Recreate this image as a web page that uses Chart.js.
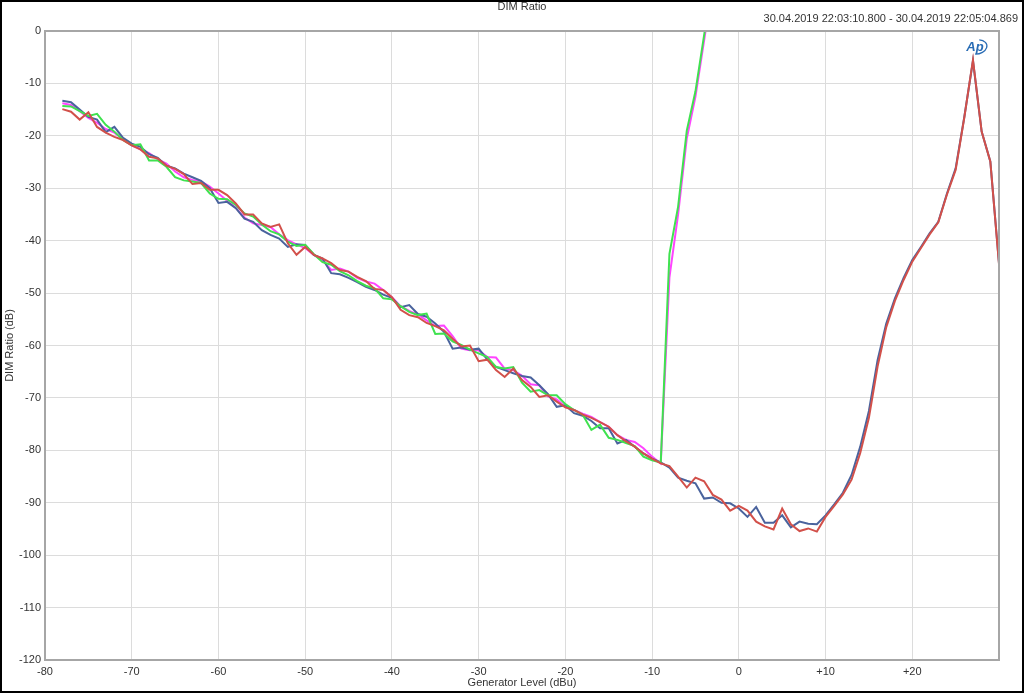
<!DOCTYPE html>
<html>
<head>
<meta charset="utf-8">
<script src="https://cdn.jsdelivr.net/npm/chart.js@4.4.1/dist/chart.umd.min.js"></script>
<style>
  html, body { margin: 0; padding: 0; background: #fff; }
  #wrap { position: relative; width: 1024px; height: 693px; }
  #frame { position: absolute; left: 0; top: 0; width: 1020px; height: 689px; border: 2px solid #000; pointer-events: none; }
  .lbl { position: absolute; font-family: "Liberation Sans", Arial, sans-serif; font-size: 11px; color: #333; white-space: nowrap; }
  #title { left: 0; width: 1044px; top: 0; text-align: center; }
  #stamp { right: 6px; top: 12px; }
</style>
</head>
<body>
<div id="wrap">
  <canvas id="dimChart" width="1024" height="693"></canvas>
  <div id="title" class="lbl">DIM Ratio</div>
  <div id="stamp" class="lbl">30.04.2019 22:03:10.800 - 30.04.2019 22:05:04.869</div>
  <div id="frame"></div>
</div>
<script>
// generator level (dBu), one point per dB
const genLevel = [
  -78, -77, -76, -75, -74, -73, -72, -71, -70, -69, -68, -67, -66, -65, -64, -63, -62, -61, -60, -59,
  -58, -57, -56, -55, -54, -53, -52, -51, -50, -49, -48, -47, -46, -45, -44, -43, -42, -41, -40, -39,
  -38, -37, -36, -35, -34, -33, -32, -31, -30, -29, -28, -27, -26, -25, -24, -23, -22, -21, -20, -19,
  -18, -17, -16, -15, -14, -13, -12, -11, -10, -9, -8, -7, -6, -5, -4, -3, -2, -1, 0, 1,
  2, 3, 4, 5, 6, 7, 8, 9, 10, 11, 12, 13, 14, 15, 16, 17, 18, 19, 20, 21,
  22, 23, 24, 25, 26, 27, 28, 29, 30
];

// DIM ratio (dB) per channel
const blueDim = [
  -13.3, -13.6, -15.0, -16.4, -16.9, -19.3, -18.3, -20.4, -21.5, -22.1, -23.5, -24.2, -25.7, -26.2, -27.2, -27.9, -28.6, -30.0, -32.8, -32.6,
  -33.8, -35.8, -36.4, -38.0, -38.9, -39.6, -41.2, -40.7, -40.8, -42.7, -43.4, -46.2, -46.4, -47.1, -47.9, -48.8, -49.4, -50.3, -50.9, -52.7,
  -52.3, -54.0, -54.5, -55.8, -57.4, -60.6, -60.4, -60.8, -60.6, -62.7, -64.1, -64.7, -65.3, -65.8, -66.1, -67.6, -69.3, -71.7, -71.4, -72.9,
  -73.4, -74.4, -75.8, -75.8, -78.7, -78.0, -79.3, -80.6, -81.6, -82.3, -83.3, -85.2, -85.8, -86.3, -89.2, -89.0, -90.0, -90.1, -91.1, -92.7,
  -90.8, -93.8, -93.8, -92.4, -94.7, -93.6, -94.0, -94.1, -92.4, -90.3, -88.1, -84.7, -79.3, -72.5, -62.8, -55.8, -51.0, -47.1, -43.7, -41.2,
  -38.6, -36.4, -31.0, -26.2, -16.4, -5.7, -19.2, -24.9, -44.3
];
const redDim = [
  -14.9, -15.4, -16.9, -15.5, -18.3, -19.4, -20.2, -20.8, -21.8, -22.6, -24.0, -24.3, -25.7, -26.3, -27.3, -29.2, -29.0, -30.3, -30.3, -31.3,
  -32.9, -35.0, -35.0, -36.7, -37.4, -36.9, -40.5, -42.7, -41.2, -42.7, -43.4, -44.3, -45.6, -45.9, -46.9, -47.7, -49.2, -49.4, -50.8, -53.2,
  -54.2, -54.6, -55.7, -56.3, -57.1, -58.7, -60.2, -60.0, -63.0, -62.7, -64.7, -66.0, -64.4, -66.6, -67.9, -69.8, -69.5, -70.7, -71.8, -72.3,
  -73.2, -73.8, -74.6, -75.5, -77.1, -78.3, -79.3, -80.6, -81.6, -82.5, -83.0, -85.0, -87.1, -85.2, -85.9, -88.5, -89.4, -91.5, -90.6, -91.5,
  -93.6, -94.5, -95.1, -91.1, -94.1, -95.4, -94.9, -95.5, -92.7, -90.6, -88.4, -85.6, -80.5, -73.8, -64.0, -56.5, -51.5, -47.5, -44.0, -41.4,
  -38.8, -36.5, -31.2, -26.5, -16.5, -5.5, -19.2, -24.9, -44.5
];
const greenDim = [
  -14.3, -14.4, -15.3, -16.2, -15.8, -17.9, -19.2, -20.8, -21.8, -21.6, -24.7, -24.7, -25.9, -27.9, -28.5, -28.7, -29.0, -31.0, -32.0, -32.1,
  -33.2, -34.8, -35.4, -36.9, -38.2, -38.8, -40.2, -41.0, -40.8, -42.6, -44.1, -44.6, -45.8, -46.6, -47.7, -48.6, -49.1, -51.0, -51.2, -52.5,
  -53.6, -54.2, -53.9, -57.8, -57.7, -59.2, -59.9, -60.8, -61.5, -62.2, -64.1, -64.4, -64.1, -67.1, -68.8, -68.5, -69.5, -69.5, -71.2, -72.3,
  -73.2, -76.1, -75.1, -77.6, -78.0, -78.6, -79.2, -81.2, -81.9, -82.3, -42.5, -33.5, -19.0, -11.5, -0.8, 10.0
];
const magentaDim = [
  -13.8, -14.1, -15.3, -16.6, -17.5, -18.7, -19.4, -20.7, -21.8, -22.6, -23.3, -24.5, -25.3, -26.8, -27.9, -28.4, -28.7, -29.7, -31.0, -32.4,
  -33.7, -35.6, -36.7, -37.0, -37.4, -38.8, -39.9, -40.7, -41.4, -42.7, -43.7, -45.6, -45.3, -45.9, -47.1, -47.8, -48.2, -49.4, -50.8, -52.5,
  -53.4, -54.1, -55.2, -56.3, -56.2, -58.2, -60.6, -60.9, -60.9, -62.2, -62.3, -64.4, -64.7, -65.8, -67.4, -67.6, -69.7, -70.3, -71.7, -72.3,
  -73.0, -73.6, -74.6, -75.5, -77.1, -78.0, -78.4, -79.6, -81.2, -82.5, -47.0, -35.0, -20.5, -12.5, -1.8, 9.0
];

const xTicksMin = -80;
const xTicksMax = 30;
const yTicksMin = -120;
const yTicksMax = 0;

function toPoints(values) {
  return values.map((v, i) => ({ x: genLevel[i], y: v }));
}

function series(label, values, color, order) {
  return {
    label,
    data: toPoints(values),
    borderColor: color,
    backgroundColor: color,
    borderWidth: 2,
    pointRadius: 0,
    tension: 0,
    order,
  };
}

// plot frame + the small "Ap" badge
const framePlugin = {
  id: 'frame',
  afterDraw(chart) {
    const { ctx, chartArea: a } = chart;
    ctx.save();
    ctx.strokeStyle = '#a6a6a6';
    ctx.lineWidth = 2;
    ctx.strokeRect(a.left, a.top, a.right - a.left, a.bottom - a.top);
    ctx.fillStyle = '#2a6db5';
    ctx.font = 'italic bold 13px "Liberation Sans", Arial, sans-serif';
    ctx.textAlign = 'center';
    ctx.textBaseline = 'middle';
    ctx.fillText('Ap', 975, 47);
    ctx.strokeStyle = '#2a6db5';
    ctx.lineWidth = 1.3;
    ctx.beginPath();
    ctx.ellipse(977, 47, 10, 7, -0.2, -1.2, 1.9);
    ctx.stroke();
    ctx.restore();
  },
};

const font = { family: '"Liberation Sans", Arial, sans-serif', size: 11 };

new Chart(document.getElementById('dimChart'), {
  type: 'line',
  data: {
    datasets: [
      series('Ch A', redDim, '#d2504a', 0),
      series('Ch B', greenDim, '#3fe24f', 1),
      series('Ch C', blueDim, '#4a639d', 2),
      series('Ch D', magentaDim, '#ff44ff', 3),
    ],
  },
  options: {
    responsive: false,
    animation: false,
    layout: { padding: { top: 31, right: 25, left: 0, bottom: 0 } },
    plugins: {
      legend: { display: false },
      tooltip: { enabled: false },
    },
    scales: {
      x: {
        type: 'linear',
        min: xTicksMin,
        max: xTicksMax,
        afterFit: (scale) => { scale.height = 33; },
        grid: { color: '#dcdcdc', lineWidth: 1, drawTicks: false },
        border: { display: false },
        ticks: {
          stepSize: 10,
          padding: 5,
          maxRotation: 0,
          color: '#333',
          font,
          callback: (v) => (v === 30 ? '' : v > 0 ? '+' + v : String(v)),
        },
        title: {
          display: true,
          text: 'Generator Level (dBu)',
          color: '#333',
          font,
          padding: { top: 0, bottom: 3 },
        },
      },
      y: {
        min: yTicksMin,
        max: yTicksMax,
        afterFit: (scale) => { scale.width = 45; },
        grid: { color: '#dcdcdc', lineWidth: 1, drawTicks: false },
        border: { display: false },
        ticks: { stepSize: 10, padding: 4, color: '#333', font },
        title: {
          display: true,
          text: 'DIM Ratio (dB)',
          color: '#333',
          font,
          padding: { top: 3, bottom: 0 },
        },
      },
    },
  },
  plugins: [framePlugin],
});
</script>
</body>
</html>
